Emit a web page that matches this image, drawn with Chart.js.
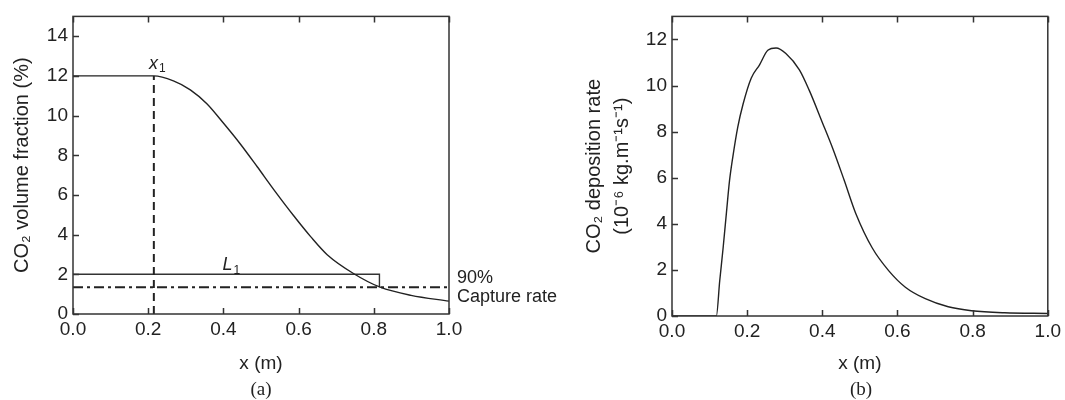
<!DOCTYPE html>
<html>
<head>
<meta charset="utf-8">
<script src="https://cdn.jsdelivr.net/npm/chart.js@4"></script>
<style>
  html, body { margin: 0; padding: 0; background: #fff; }
  #wrap { position: relative; width: 1065px; height: 400px; }
  .pane { position: absolute; top: 0; }
  .cap { position: absolute; font-family: "Liberation Serif", serif; font-size: 19px; color: #222;
         transform: translate(-50%, -50%); }
</style>
</head>
<body>
<div id="wrap">
  <div class="pane" style="left:0"><canvas id="chartA" width="560" height="400"></canvas></div>
  <div class="pane" style="left:560px"><canvas id="chartB" width="505" height="400"></canvas></div>
  <div class="cap" style="left:261px; top:389px">(a)</div>
  <div class="cap" style="left:861px; top:389px">(b)</div>
</div>
<script>
// (a) CO2 volume fraction along the bed
const fracX = [0, 0.215, 0.267, 0.312, 0.356, 0.401, 0.445, 0.490, 0.534, 0.587, 0.632, 0.676, 0.747, 0.817, 0.899, 1.0];
const fracY = [12, 12, 11.75, 11.3, 10.6, 9.6, 8.57, 7.42, 6.27, 4.95, 3.9, 2.99, 2.03, 1.35, 0.94, 0.65];

// (b) CO2 deposition rate
const rateX = [0, 0.118, 0.127, 0.136, 0.145, 0.153, 0.162, 0.175, 0.189, 0.211, 0.233, 0.255, 0.277, 0.303, 0.339,
               0.365, 0.400, 0.427, 0.458, 0.489, 0.533, 0.577, 0.621, 0.674, 0.735, 0.797, 0.885, 1.0];
const rateY = [0, 0, 1.53, 2.95, 4.51, 5.86, 6.92, 8.2, 9.19, 10.33, 10.9, 11.53, 11.63, 11.39, 10.68,
               9.8, 8.4, 7.3, 5.9, 4.45, 2.95, 1.96, 1.25, 0.75, 0.4, 0.23, 0.14, 0.11];

// markers on (a)
const x1Pos = 0.215;
const x1Top = 12;
const captureLevel = 1.35;
const l1Top = 2.0;
const l1End = 0.815;

const yMaxA = 15, yMaxB = 13;

const INK = '#222';
const FONT = '"Liberation Sans", Arial, sans-serif';

const toPts = (xs, ys) => xs.map((x, i) => ({ x, y: ys[i] }));

// box + inward ticks (left, bottom, top)
const framePlugin = {
    id: 'frame',
    afterDatasetsDraw(chart) {
        const { ctx, chartArea: a, scales: { x, y } } = chart;
        ctx.save();
        ctx.strokeStyle = '#333';
        ctx.lineWidth = 1.5;
        ctx.strokeRect(a.left, a.top, a.width, a.height);
        ctx.beginPath();
        x.ticks.forEach(t => {
            const px = Math.round(x.getPixelForValue(t.value)) + 0.5;
            ctx.moveTo(px, a.bottom); ctx.lineTo(px, a.bottom - 6);
            ctx.moveTo(px, a.top); ctx.lineTo(px, a.top + 6);
        });
        y.ticks.forEach(t => {
            const py = Math.round(y.getPixelForValue(t.value)) + 0.5;
            ctx.moveTo(a.left, py); ctx.lineTo(a.left + 6, py);
        });
        ctx.stroke();
        ctx.restore();
    }
};

// italic label with subscript
function subLabel(ctx, base, sub, cx, cy) {
    ctx.font = 'italic 18px ' + FONT;
    const w1 = ctx.measureText(base).width;
    ctx.font = '12px ' + FONT;
    const w2 = ctx.measureText(sub).width;
    const left = cx - (w1 + w2) / 2;
    ctx.textBaseline = 'middle';
    ctx.textAlign = 'left';
    ctx.font = 'italic 18px ' + FONT;
    ctx.fillText(base, left, cy);
    ctx.font = '12px ' + FONT;
    ctx.fillText(sub, left + w1 + 1, cy + 5);
}

const notesPlugin = {
    id: 'notes',
    afterDraw(chart) {
        const { ctx, chartArea: a, scales: { x, y } } = chart;
        ctx.save();
        ctx.fillStyle = INK;
        subLabel(ctx, 'x', '1', x.getPixelForValue(x1Pos) + 3, y.getPixelForValue(12.6));
        subLabel(ctx, 'L', '1', x.getPixelForValue(0.42), y.getPixelForValue(2.45));
        ctx.font = '18px ' + FONT;
        ctx.textAlign = 'left';
        ctx.textBaseline = 'middle';
        ctx.fillText('90%', a.right + 8, y.getPixelForValue(captureLevel) - 9);
        ctx.fillText('Capture rate', a.right + 8, y.getPixelForValue(captureLevel) + 10);
        ctx.restore();
    }
};

function xScale() {
    return {
        type: 'linear',
        min: 0, max: 1,
        grid: { display: false, drawTicks: false },
        border: { display: false },
        ticks: {
            stepSize: 0.2,
            padding: 4,
            color: INK,
            font: { family: FONT, size: 19 },
            maxRotation: 0,
            callback: v => v.toFixed(1)
        },
        title: {
            display: true,
            text: 'x (m)',
            color: INK,
            font: { family: FONT, size: 19 },
            padding: { top: 0, bottom: 25 }
        }
    };
}

function yScale(max, width, title, titlePad, lineHeight) {
    return {
        type: 'linear',
        min: 0, max: max,
        grid: { display: false, drawTicks: false },
        border: { display: false },
        ticks: {
            stepSize: 2,
            includeBounds: false,
            padding: 5,
            color: INK,
            font: { family: FONT, size: 19 }
        },
        title: {
            display: true,
            text: title,
            color: INK,
            font: { family: FONT, size: 20, lineHeight: lineHeight },
            padding: { top: titlePad, bottom: 0 }
        },
        afterFit(scale) { scale.width = width; }
    };
}

function baseOptions(padRight, xHeight, yOpts) {
    const xs = xScale();
    xs.afterFit = scale => { scale.height = xHeight; };
    return {
        responsive: false,
        animation: false,
        layout: { padding: { left: 0, right: padRight, top: 10, bottom: 0 } },
        plugins: { legend: { display: false }, tooltip: { enabled: false } },
        elements: { point: { radius: 0 } },
        scales: { x: xs, y: yOpts }
    };
}

const chartA = new Chart(document.getElementById('chartA'), {
    type: 'line',
    data: {
        datasets: [
            {
                data: toPts(fracX, fracY),
                borderColor: INK, borderWidth: 1.4,
                cubicInterpolationMode: 'monotone'
            },
            {
                data: [{ x: x1Pos, y: 0 }, { x: x1Pos, y: x1Top }],
                borderColor: INK, borderWidth: 2, borderDash: [8, 5]
            },
            {
                data: [{ x: 0, y: captureLevel }, { x: 1, y: captureLevel }],
                borderColor: INK, borderWidth: 2, borderDash: [10, 4, 3, 4]
            },
            {
                data: [{ x: 0, y: l1Top }, { x: l1End, y: l1Top }, { x: l1End, y: captureLevel }],
                borderColor: '#333', borderWidth: 1.4
            }
        ]
    },
    options: baseOptions(111, 86, yScale(yMaxA, 73, 'CO\u2082 volume fraction (%)', 10, 1.2)),
    plugins: [framePlugin, notesPlugin]
});

const chartB = new Chart(document.getElementById('chartB'), {
    type: 'line',
    data: {
        datasets: [
            {
                data: toPts(rateX, rateY),
                borderColor: INK, borderWidth: 1.4,
                cubicInterpolationMode: 'monotone'
            }
        ]
    },
    options: baseOptions(15, 84, yScale(yMaxB, 112,
        ['CO\u2082 deposition rate', '(10\u207B\u2076 kg.m\u207B\u00B9s\u207B\u00B9)'], 20, 1.4)),
    plugins: [framePlugin]
});
</script>
</body>
</html>
